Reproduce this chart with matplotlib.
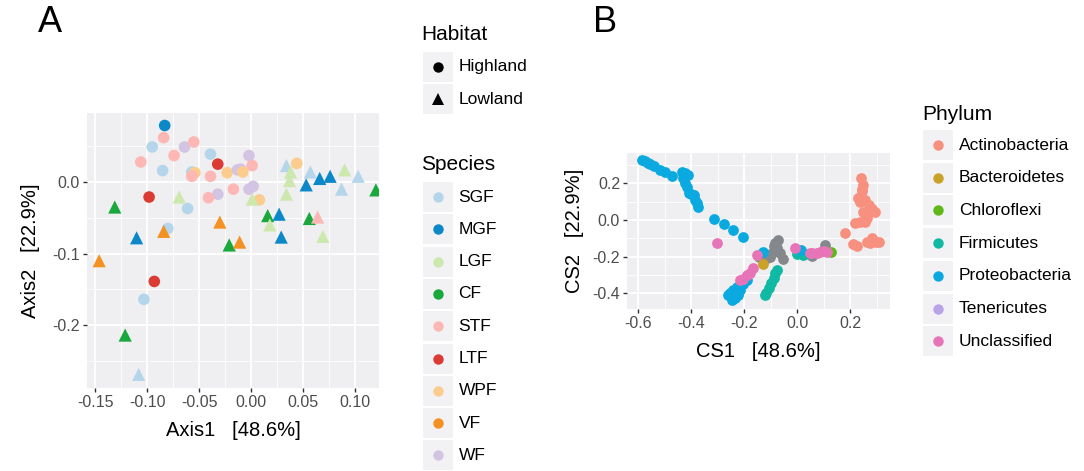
import matplotlib
matplotlib.use("Agg")
import matplotlib.pyplot as plt
from matplotlib.patches import Rectangle
from matplotlib.ticker import MultipleLocator, FuncFormatter

plt.rcParams['font.family'] = ['Liberation Sans', 'DejaVu Sans']

# ---- panel A data (PCoA) ----
species_names = ["SGF", "MGF", "LGF", "CF", "STF", "LTF", "WPF", "VF", "WF"]
species_colors = ["#B5D5EA", "#0C87C7", "#CDE8AF", "#19A83B", "#FDB7B5",
                  "#DC3B33", "#FCCB8E", "#F49122", "#D3C4E3"]

high_x = [-0.083, -0.084, -0.095, -0.064, -0.055, -0.074, -0.039, -0.106, -0.032, -0.085,
          -0.057, -0.054, -0.057, -0.039, -0.023, -0.002, 0.001, -0.013, -0.010, -0.008,
          0.044, -0.017, -0.032, -0.041, -0.098, -0.061, -0.080, -0.002, 0.002, 0.008,
          -0.093, -0.103]
high_y = [0.079, 0.062, 0.049, 0.049, 0.056, 0.037, 0.039, 0.028, 0.025, 0.016,
          0.014, 0.013, 0.008, 0.008, 0.013, 0.037, 0.023, 0.017, 0.018, 0.014,
          0.026, -0.010, -0.017, -0.022, -0.021, -0.037, -0.065, -0.010, -0.006, -0.025,
          -0.139, -0.164]
high_sp = ["MGF", "STF", "SGF", "WF", "STF", "STF", "SGF", "STF", "LTF", "SGF",
           "SGF", "WPF", "STF", "STF", "WPF", "WF", "STF", "WF", "WF", "WPF",
           "WPF", "STF", "WF", "STF", "LTF", "SGF", "SGF", "WF", "WF", "WPF",
           "LTF", "SGF"]

low_x = [-0.069, -0.131, -0.030, -0.110, -0.084, -0.021, -0.011, 0.034, 0.038, 0.037,
         0.057, 0.066, 0.076, 0.090, 0.103, 0.053, 0.120, 0.087, 0.001, 0.034,
         0.016, 0.027, 0.018, 0.056, 0.064, 0.029, 0.069, -0.146, -0.121, -0.108]
low_y = [-0.021, -0.035, -0.056, -0.078, -0.069, -0.088, -0.084, 0.023, 0.014, 0.002,
         0.014, 0.005, 0.008, 0.017, 0.008, -0.004, -0.011, -0.010, -0.024, -0.017,
         -0.047, -0.045, -0.060, -0.051, -0.049, -0.077, -0.076, -0.110, -0.214, -0.269]
low_sp = ["LGF", "CF", "VF", "MGF", "VF", "CF", "VF", "SGF", "LGF", "LGF",
          "SGF", "MGF", "MGF", "LGF", "SGF", "MGF", "CF", "SGF", "LGF", "LGF",
          "CF", "MGF", "LGF", "CF", "STF", "MGF", "LGF", "VF", "CF", "SGF"]

# ---- panel B data (CCA) ----
phyla = ["Actinobacteria", "Bacteroidetes", "Chloroflexi", "Firmicutes",
         "Proteobacteria", "Tenericutes", "Unclassified"]
phyla_colors = ["#F8907F", "#C9A227", "#5DB818", "#10B9A4", "#0AAAE0", "#B8A4E6", "#E874B8"]
na_color = "#84878C"

na_x = [-0.147, -0.115, -0.103, -0.097, -0.084, -0.078, -0.072, -0.065, -0.053, -0.090, 0.054, 0.105]
na_y = [-0.200, -0.209, -0.200, -0.182, -0.127, -0.155, -0.109, -0.182, -0.215, -0.140, -0.196, -0.136]

cs_x = {
    "Actinobacteria": [0.239, 0.247, 0.243, 0.230, 0.240, 0.255, 0.268, 0.293, 0.280, 0.249,
                       0.237, 0.218, 0.255, 0.262, 0.180, 0.211, 0.224, 0.262, 0.281, 0.306,
                       0.274, 0.295, 0.245, 0.235],
    "Bacteroidetes": [-0.131],
    "Chloroflexi": [0.126],
    "Firmicutes": [-0.078, -0.084, -0.090, -0.100, -0.109, -0.118, -0.122, -0.002, 0.029, 0.020],
    "Proteobacteria": [-0.587, -0.575, -0.565, -0.556, -0.540, -0.518, -0.500, -0.474, -0.436, -0.425,
                       -0.412, -0.430, -0.424, -0.418, -0.411, -0.400, -0.392, -0.385, -0.380, -0.374,
                       -0.314, -0.277, -0.242, -0.206, -0.191, -0.254, -0.242, -0.229, -0.216, -0.248,
                       -0.223, -0.261, -0.235, -0.240, -0.228, -0.131, 0.015, -0.205],
    "Tenericutes": [],
    "Unclassified": [-0.304, -0.204, -0.216, -0.190, -0.178, -0.166, -0.153, -0.009, 0.054, 0.073,
                     0.048, 0.086, 0.100, 0.111],
}
cs_y = {
    "Actinobacteria": [0.227, 0.191, 0.155, 0.118, 0.130, 0.109, 0.082, 0.045, 0.060, 0.045,
                       -0.009, -0.018, -0.009, 0.010, -0.073, -0.131, -0.142, -0.118, -0.100, -0.118,
                       -0.127, -0.120, 0.170, 0.100],
    "Bacteroidetes": [-0.240],
    "Chloroflexi": [-0.173],
    "Firmicutes": [-0.273, -0.290, -0.318, -0.345, -0.373, -0.400, -0.410, -0.186, -0.186, -0.190],
    "Proteobacteria": [0.327, 0.320, 0.313, 0.305, 0.293, 0.273, 0.262, 0.240, 0.264, 0.258,
                       0.245, 0.230, 0.200, 0.180, 0.146, 0.140, 0.136, 0.110, 0.091, 0.073,
                       0.003, -0.022, -0.055, -0.091, -0.327, -0.400, -0.382, -0.364, -0.382, -0.436,
                       -0.409, -0.409, -0.427, -0.395, -0.380, -0.176, -0.166, -0.350],
    "Tenericutes": [],
    "Unclassified": [-0.125, -0.322, -0.330, -0.300, -0.291, -0.264, -0.191, -0.155, -0.182, -0.182,
                     -0.178, -0.173, -0.170, -0.173],
}

panel_bg = "#EFEFF1"
key_bg = "#F2F2F4"
tick_col = "#4D4D4D"

W, H = 1084, 471
fig = plt.figure(figsize=(W / 100, H / 100), dpi=100)

# overlay in pixel coords for legends and panel letters
ov = fig.add_axes([0, 0, 1, 1])
ov.set_xlim(0, W)
ov.set_ylim(H, 0)
ov.axis("off")


def style_ax(ax, xmaj, ymaj):
    ax.set_facecolor(panel_bg)
    for s in ax.spines.values():
        s.set_visible(False)
    ax.xaxis.set_major_locator(MultipleLocator(xmaj))
    ax.xaxis.set_minor_locator(MultipleLocator(xmaj / 2))
    ax.yaxis.set_major_locator(MultipleLocator(ymaj))
    ax.yaxis.set_minor_locator(MultipleLocator(ymaj / 2))
    ax.grid(which="major", color="white", lw=1.3)
    ax.grid(which="minor", color="white", lw=0.6)
    ax.set_axisbelow(True)
    ax.tick_params(which="major", length=3, width=1, color="#333333",
                   labelcolor=tick_col, labelsize=11.5, pad=2)
    ax.tick_params(which="minor", length=0)


def px_axes(l, t, r, b):
    return fig.add_axes([l / W, 1 - b / H, (r - l) / W, (b - t) / H])


# ---- panel A ----
axA = px_axes(87, 113, 379, 388)
style_ax(axA, 0.05, 0.1)
col_of = dict(zip(species_names, species_colors))
axA.scatter(high_x, high_y, c=[col_of[s] for s in high_sp], marker="o", s=70, linewidths=0, zorder=3)
axA.scatter(low_x, low_y, c=[col_of[s] for s in low_sp], marker="^", s=90, linewidths=0, zorder=3)
axA.set_xlim(-0.1577, 0.123)
axA.set_ylim(-0.288, 0.0965)
axA.xaxis.set_major_formatter(FuncFormatter(lambda v, p: f"{v:.2f}"))
axA.yaxis.set_major_formatter(FuncFormatter(lambda v, p: f"{v:.1f}"))
axA.set_xlabel("Axis1   [48.6%]", fontsize=14.5, labelpad=8)
axA.set_ylabel("Axis2   [22.9%]", fontsize=14.5, labelpad=9)

# ---- panel B ----
axB = px_axes(627, 153, 890, 309)
style_ax(axB, 0.2, 0.2)
axB.scatter(na_x, na_y, c=na_color, s=60, linewidths=0, zorder=3)
for ph, col in zip(phyla, phyla_colors):
    axB.scatter(cs_x[ph], cs_y[ph], c=col, s=60, linewidths=0, zorder=3)
axB.set_xlim(-0.643, 0.349)
axB.set_ylim(-0.486, 0.365)
axB.xaxis.set_major_formatter(FuncFormatter(lambda v, p: f"{v:.1f}"))
axB.yaxis.set_major_formatter(FuncFormatter(lambda v, p: f"{v:.1f}"))
axB.set_xlabel("CS1   [48.6%]", fontsize=14.5, labelpad=8)
axB.set_ylabel("CS2   [22.9%]", fontsize=14.5, labelpad=6)

# ---- panel letters ----
ov.text(50, 22, "A", fontsize=26, ha="center", va="center")
ov.text(605, 22, "B", fontsize=26, ha="center", va="center")


# ---- legends ----
def legend_block(x0, top, step, labels, colors, markers):
    for i, (lab, col, mk) in enumerate(zip(labels, colors, markers)):
        y0 = top + step * i
        ov.add_patch(Rectangle((x0, y0), 30, 30, facecolor=key_bg, edgecolor="none"))
        ov.plot([x0 + 15], [y0 + 15], marker=mk, color=col, ms=7.5 if mk == "o" else 8.5, mew=0)
        ov.text(x0 + 36, y0 + 15, lab, fontsize=12.5, va="center", ha="left")


ov.text(421, 35, "Habitat", fontsize=15, va="center", ha="left")
legend_block(422.5, 52, 32, ["Highland", "Lowland"], ["black", "black"], ["o", "^"])

ov.text(421, 164, "Species", fontsize=15, va="center", ha="left")
legend_block(422.5, 182, 32.3, species_names, species_colors, ["o"] * 9)

ov.text(922, 114, "Phylum", fontsize=15, va="center", ha="left")
legend_block(923, 130, 32.7, phyla, phyla_colors, ["o"] * 7)

fig.savefig("out.png", dpi=100)
